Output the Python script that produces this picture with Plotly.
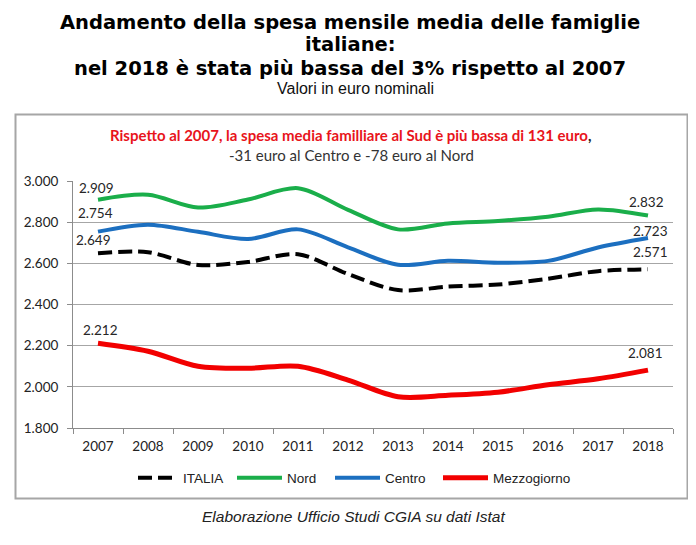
import plotly.graph_objects as go

years = ["2007", "2008", "2009", "2010", "2011", "2012", "2013", "2014", "2015", "2016", "2017", "2018"]
italia = [2649, 2654, 2592, 2607, 2644, 2548, 2470, 2487, 2497, 2525, 2562, 2571]
nord = [2909, 2933, 2871, 2910, 2965, 2860, 2765, 2794, 2806, 2826, 2862, 2832]
centro = [2754, 2788, 2753, 2718, 2765, 2678, 2593, 2612, 2603, 2612, 2677, 2723]
mezzogiorno = [2212, 2173, 2100, 2090, 2100, 2033, 1952, 1959, 1974, 2010, 2039, 2081]

series_names = ["ITALIA", "Nord", "Centro", "Mezzogiorno"]
y_ticks = [1800, 2000, 2200, 2400, 2600, 2800, 3000]

# page has an 8px body margin: figure drawn from (8,8)
OFF = 8
W, H = 696 - OFF, 545 - OFF
PL, PR, PT, PB = 73, 673, 181, 428   # plot area in page pixels
ML, MR, MT, MB = PL - OFF, 696 - PR, PT - OFF, 545 - PB
PW = PR - PL
PH = PB - PT


def px(p):
    return (p - PL) / PW


def py(q):
    return (PB - q) / PH


fig = go.Figure()
styles = [
    dict(color="#000000", width=4, dash="14px,6px"),
    dict(color="#1aae4a", width=4),
    dict(color="#1c6fc0", width=4),
    dict(color="#f20000", width=5),
]
legend_ids = ["legend", "legend2", "legend3", "legend4"]
for name, vals, st, lg in zip(series_names, [italia, nord, centro, mezzogiorno], styles, legend_ids):
    fig.add_trace(go.Scatter(x=years, y=vals, name=name, mode="lines", legend=lg,
                             line=dict(shape="spline", smoothing=0.9, **st)))


def fmt(v):
    return f"{v:,}".replace(",", ".")


label_offsets = {
    "ITALIA": ((-5, 13), (2, 17)),
    "Nord": ((-2, 12), (-2, 14)),
    "Centro": ((-3, 19), (2, 7)),
    "Mezzogiorno": ((2, 13), (-3, 17)),
}
annotations = []
for name, vals in zip(series_names, [italia, nord, centro, mezzogiorno]):
    for idx, off in zip((0, len(years) - 1), label_offsets[name]):
        annotations.append(dict(x=idx, y=vals[idx], xref="x", yref="y",
                                text=fmt(vals[idx]), showarrow=False,
                                xshift=off[0], yshift=off[1], yanchor="middle",
                                font=dict(family="Lato", size=13.5, color="#262626")))

title_font = dict(family="DejaVu Sans", size=19.5, color="#000000")
for text, q in [("<b>Andamento della spesa mensile media delle famiglie</b>", 22),
                ("<b>italiane:</b>", 45),
                ("<b>nel 2018 è stata più bassa del 3% rispetto al 2007</b>", 68)]:
    annotations.append(dict(x=px(350), y=py(q), xref="paper", yref="paper", text=text,
                            showarrow=False, xanchor="center", yanchor="middle", font=title_font))
annotations.append(dict(x=px(355), y=py(88), xref="paper", yref="paper",
                        text="Valori in euro nominali", showarrow=False,
                        xanchor="center", yanchor="middle",
                        font=dict(family="Liberation Sans", size=16, color="#111111")))
annotations.append(dict(x=px(351), y=py(135), xref="paper", yref="paper",
                        text="<b><span style='color:#e8141b'>Rispetto al 2007, la spesa media familliare al Sud è più bassa di 131 euro</span>,</b>",
                        showarrow=False, xanchor="center", yanchor="middle",
                        font=dict(family="Lato", size=15, color="#222222")))
annotations.append(dict(x=px(351), y=py(155), xref="paper", yref="paper",
                        text="-31 euro al Centro e -78 euro al Nord", showarrow=False,
                        xanchor="center", yanchor="middle",
                        font=dict(family="Lato", size=15, color="#333333")))
annotations.append(dict(x=px(353), y=py(516), xref="paper", yref="paper",
                        text="<i>Elaborazione Ufficio Studi CGIA su dati Istat</i>", showarrow=False,
                        xanchor="center", yanchor="middle",
                        font=dict(family="Liberation Sans", size=15.5, color="#222222")))

shapes = [dict(type="rect", xref="paper", yref="paper",
               x0=px(15.5), x1=px(687.5), y0=py(498.5), y1=py(114.5),
               line=dict(color="#a6a6a6", width=2), fillcolor="rgba(0,0,0,0)", layer="below")]

legend_font = dict(family="Liberation Sans", size=13.5, color="#222222")
legend_x = [133, 232, 330, 438]
legend_iw = [40, 45, 45, 45]
legends = {}
for lg, lx, iw in zip(legend_ids, legend_x, legend_iw):
    legends[lg] = dict(orientation="h", x=px(lx), xanchor="left", y=py(478), yanchor="middle",
                       font=legend_font, itemwidth=iw, bgcolor="rgba(0,0,0,0)")

fig.update_layout(
    width=W, height=H,
    margin=dict(l=ML, r=MR, t=MT, b=MB, pad=0),
    paper_bgcolor="white", plot_bgcolor="white",
    separators=",.",
    showlegend=True,
    annotations=annotations,
    shapes=shapes,
    xaxis=dict(type="category", tickson="boundaries", ticks="outside", ticklen=5,
               tickcolor="#8c8c8c", showline=True, linecolor="#8c8c8c", linewidth=1,
               showgrid=False, tickfont=dict(family="Lato", size=13.5, color="#222222"),
               range=[-0.5, 11.5], fixedrange=True, ticklabelstandoff=6),
    yaxis=dict(range=[1800, 3000], tickvals=y_ticks, tickformat=",d",
               ticks="outside", ticklen=5, tickcolor="#8c8c8c",
               showline=True, linecolor="#8c8c8c", linewidth=1,
               showgrid=True, gridcolor="#a6a6a6", gridwidth=1, zeroline=False,
               tickfont=dict(family="Lato", size=13.5, color="#222222"),
               ticklabelstandoff=6),
    **legends,
)

fig.write_html("out.html")
